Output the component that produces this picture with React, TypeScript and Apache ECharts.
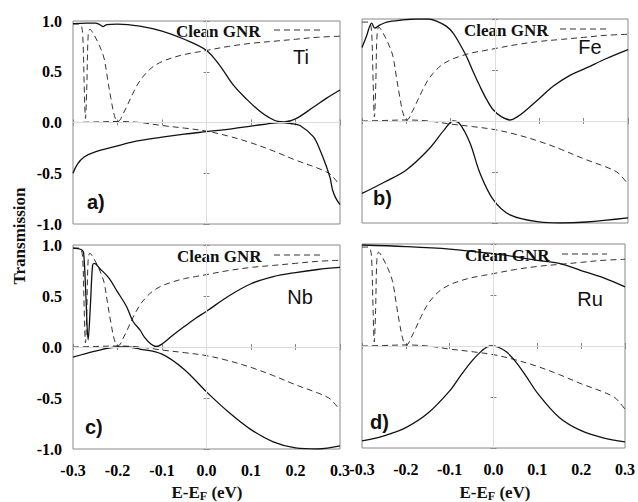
import React, { useEffect, useRef } from "react";
import * as echarts from "echarts";

// ---------- data ----------
const xMin = -0.3;
const xMax = 0.3;
const xStep = 0.1;
const yMin = -1;
const yMax = 1;
const yStep = 0.5;

const panelLetters = ["a)", "b)", "c)", "d)"];
const metals = ["Ti", "Fe", "Nb", "Ru"];
const legendLabel = "Clean GNR";
const yTitle = "Transmission";

// clean GNR (dashed) – same in every panel
const cleanUpper: [number, number][] = [
  [-0.3, 0.97], [-0.29, 0.97], [-0.282, 0.96], [-0.278, 0.85], [-0.275, 0.4],
  [-0.272, 0.04], [-0.269, 0.35], [-0.266, 0.85], [-0.262, 0.92], [-0.255, 0.88],
  [-0.245, 0.8], [-0.237, 0.72], [-0.23, 0.63], [-0.222, 0.42], [-0.215, 0.24],
  [-0.207, 0.07], [-0.2, 0.01], [-0.195, 0.02], [-0.188, 0.08], [-0.18, 0.15],
  [-0.165, 0.29], [-0.15, 0.41], [-0.135, 0.49], [-0.12, 0.55], [-0.1, 0.6],
  [-0.075, 0.64], [-0.05, 0.67], [-0.025, 0.69], [0.0, 0.71], [0.05, 0.75],
  [0.1, 0.78], [0.15, 0.8], [0.2, 0.82], [0.25, 0.84], [0.3, 0.85],
];
const cleanLower: [number, number][] = [
  [-0.3, 0.0], [-0.25, 0.005], [-0.2, 0.01], [-0.15, 0.0], [-0.1, -0.03],
  [-0.05, -0.055], [0.0, -0.085], [0.05, -0.135], [0.1, -0.2], [0.15, -0.28],
  [0.2, -0.37], [0.25, -0.45], [0.275, -0.5], [0.285, -0.54], [0.3, -0.62],
];

// Ti
const tiUpper: [number, number][] = [
  [-0.3, 0.975], [-0.27, 0.98], [-0.25, 0.98], [-0.24, 0.965], [-0.232, 0.945],
  [-0.224, 0.965], [-0.2, 0.97], [-0.15, 0.95], [-0.1, 0.9], [-0.05, 0.82],
  [0.0, 0.71], [0.03, 0.56], [0.06, 0.37], [0.09, 0.23], [0.12, 0.11],
  [0.14, 0.05], [0.16, 0.01], [0.175, 0.005], [0.2, 0.035], [0.24, 0.15],
  [0.27, 0.24], [0.3, 0.32],
];
const tiLower: [number, number][] = [
  [-0.3, -0.5], [-0.29, -0.41], [-0.275, -0.34], [-0.25, -0.29], [-0.2, -0.23],
  [-0.165, -0.19], [-0.1, -0.145], [-0.05, -0.115], [0.0, -0.09], [0.06, -0.06],
  [0.1, -0.035], [0.135, -0.015], [0.165, 0.0], [0.19, -0.01], [0.21, -0.03],
  [0.24, -0.14], [0.255, -0.27], [0.27, -0.44], [0.278, -0.55], [0.283, -0.66],
  [0.29, -0.74], [0.3, -0.81],
];

// Fe
const feUpper: [number, number][] = [
  [-0.3, 0.72], [-0.29, 0.83], [-0.278, 0.96], [-0.271, 0.91], [-0.26, 0.94],
  [-0.244, 0.97], [-0.21, 0.99], [-0.177, 1.0], [-0.15, 1.0], [-0.132, 0.98],
  [-0.11, 0.93], [-0.094, 0.86], [-0.08, 0.76], [-0.064, 0.63], [-0.05, 0.49],
  [-0.034, 0.34], [-0.02, 0.22], [-0.004, 0.11], [0.015, 0.04], [0.034, 0.01],
  [0.05, 0.04], [0.071, 0.11], [0.1, 0.22], [0.131, 0.34], [0.17, 0.45],
  [0.206, 0.52], [0.25, 0.61], [0.3, 0.7],
];
const feLower: [number, number][] = [
  [-0.3, -0.71], [-0.25, -0.6], [-0.2, -0.48], [-0.15, -0.28], [-0.115, -0.09],
  [-0.094, 0.0], [-0.079, -0.03], [-0.056, -0.22], [-0.034, -0.51], [-0.004, -0.77],
  [0.034, -0.92], [0.1, -0.99], [0.146, -1.0], [0.206, -0.99], [0.3, -0.95],
];

// Nb
const nbUpper: [number, number][] = [
  [-0.3, 0.97], [-0.29, 0.965], [-0.28, 0.95], [-0.276, 0.92], [-0.271, 0.5],
  [-0.266, 0.07], [-0.261, 0.4], [-0.256, 0.8], [-0.252, 0.82], [-0.24, 0.77],
  [-0.22, 0.68], [-0.2, 0.54], [-0.18, 0.4], [-0.165, 0.25], [-0.15, 0.17],
  [-0.14, 0.1], [-0.125, 0.03], [-0.112, 0.005], [-0.1, 0.03], [-0.08, 0.1],
  [-0.05, 0.2], [-0.025, 0.28], [0.0, 0.35], [0.05, 0.5], [0.1, 0.62],
  [0.15, 0.69], [0.2, 0.73], [0.25, 0.76], [0.3, 0.78],
];
const nbLower: [number, number][] = [
  [-0.3, -0.1], [-0.25, -0.04], [-0.2, 0.0], [-0.18, 0.0], [-0.15, -0.02],
  [-0.1, -0.07], [-0.05, -0.22], [0.0, -0.44], [0.05, -0.64], [0.1, -0.81],
  [0.15, -0.93], [0.2, -0.99], [0.25, -1.0], [0.3, -0.97],
];

// Ru
const ruUpper: [number, number][] = [
  [-0.3, 0.99], [-0.2, 0.975], [-0.1, 0.95], [0.0, 0.905], [0.05, 0.875],
  [0.1, 0.84], [0.15, 0.81], [0.2, 0.74], [0.25, 0.67], [0.3, 0.58],
];
const ruLower: [number, number][] = [
  [-0.3, -0.93], [-0.25, -0.88], [-0.2, -0.8], [-0.15, -0.66], [-0.1, -0.44],
  [-0.075, -0.29], [-0.05, -0.15], [-0.03, -0.06], [-0.015, -0.01], [-0.005, 0.0],
  [0.01, -0.01], [0.03, -0.06], [0.05, -0.15], [0.075, -0.3], [0.1, -0.46],
  [0.15, -0.7], [0.2, -0.83], [0.25, -0.9], [0.3, -0.94],
];

const upperSets = [tiUpper, feUpper, nbUpper, ruUpper];
const lowerSets = [tiLower, feLower, nbLower, ruLower];

// ---------- layout ----------
const GRIDS = [
  { left: 73, top: 21, width: 267, height: 203 },
  { left: 362, top: 19, width: 266, height: 204 },
  { left: 73, top: 245, width: 267, height: 204 },
  { left: 362, top: 244, width: 266, height: 204 },
];
const LETTER_POS = [[87, 192], [373, 188], [85, 417], [370, 412]];
const METAL_POS = [[301, 57], [590, 47], [300, 297], [590, 299]];
const LEGEND_POS = [
  { tx: 176, ty: 31, x1: 274, x2: 320, ly: 30 },
  { tx: 464, ty: 30, x1: 560, x2: 607, ly: 29 },
  { tx: 177, ty: 256, x1: 274, x2: 320, ly: 255 },
  { tx: 465, ty: 255, x1: 562, x2: 607, ly: 254 },
];

const SERIF = "Liberation Serif";
const SANS = "Liberation Sans";

const fmt = (v: number) => (Math.abs(v) < 1e-9 ? "0.0" : v.toFixed(1));

export default function App() {
  const ref = useRef<HTMLDivElement>(null);

  useEffect(() => {
    if (!ref.current) return;
    const chart = echarts.init(ref.current, null, { renderer: "svg" });

    const grid: any[] = [];
    const xAxis: any[] = [];
    const yAxis: any[] = [];
    const series: any[] = [];
    const graphic: any[] = [];

    const tick = { show: true, inside: true, length: 3, lineStyle: { color: "#888", width: 1 } };
    const labelStyle = { fontFamily: SERIF, fontWeight: "bold", fontSize: 16, color: "#000" };

    GRIDS.forEach((g, i) => {
      grid.push({ ...g, show: true, borderColor: "#888", borderWidth: 1, backgroundColor: "transparent" });
      const showX = i >= 2;
      const showY = i % 2 === 0;
      xAxis.push({
        type: "value", gridIndex: i, min: xMin, max: xMax, interval: xStep, position: "bottom",
        axisLine: { show: false }, axisTick: tick, splitLine: { show: false },
        axisLabel: { show: showX, margin: 13, formatter: fmt, showMinLabel: true, showMaxLabel: true, ...labelStyle },
      });
      xAxis.push({
        type: "value", gridIndex: i, min: xMin, max: xMax, interval: xStep, position: "top",
        axisLine: { show: false }, axisTick: tick, splitLine: { show: false }, axisLabel: { show: false },
      });
      yAxis.push({
        type: "value", gridIndex: i, min: yMin, max: yMax, interval: yStep, position: "left",
        axisLine: { show: false }, axisTick: tick, splitLine: { show: false },
        axisLabel: { show: showY, margin: 11, formatter: fmt, showMinLabel: true, showMaxLabel: true, ...labelStyle },
      });
      yAxis.push({
        type: "value", gridIndex: i, min: yMin, max: yMax, interval: yStep, position: "right",
        axisLine: { show: false }, axisTick: tick, splitLine: { show: false }, axisLabel: { show: false },
      });

      const xi = i * 2;
      const yi = i * 2;
      const dashed = { color: "#333", width: 1, type: [6, 4] };
      const solid = { color: "#111", width: 1.3, type: "solid" };
      const common = { type: "line", xAxisIndex: xi, yAxisIndex: yi, showSymbol: false, smooth: 0.35, silent: true };
      series.push({
        ...common, data: cleanUpper, lineStyle: dashed,
        markLine: {
          silent: true, symbol: "none", label: { show: false },
          lineStyle: { color: "#dcdcdc", width: 1, type: "solid" },
          data: [{ xAxis: 0 }, { yAxis: 0 }],
        },
      });
      series.push({ ...common, data: cleanLower, lineStyle: dashed });
      series.push({ ...common, data: upperSets[i], lineStyle: solid, z: 3 });
      series.push({ ...common, data: lowerSets[i], lineStyle: solid, z: 3 });

      const lp = LETTER_POS[i];
      graphic.push({
        type: "text", left: lp[0], top: lp[1], z: 1,
        style: { text: panelLetters[i], font: `bold 20px ${SANS}`, fill: "#111" },
      });
      const mp = METAL_POS[i];
      graphic.push({
        type: "text", x: mp[0], y: mp[1], z: 1,
        style: { text: metals[i], font: `20px ${SANS}`, fill: "#111", align: "center", verticalAlign: "middle" },
      });
      const lg = LEGEND_POS[i];
      graphic.push({
        type: "text", x: lg.tx, y: lg.ty, z: 1,
        style: { text: legendLabel, font: `bold 17px ${SERIF}`, fill: "#111", align: "left", verticalAlign: "middle" },
      });
      graphic.push({
        type: "line", z: 1,
        shape: { x1: lg.x1, y1: lg.ly, x2: lg.x2, y2: lg.ly },
        style: { stroke: "#333", lineWidth: 1, lineDash: [6, 4] },
      });
    });

    // axis titles
    graphic.push({
      type: "text", x: 19, y: 236, rotation: Math.PI / 2,
      style: { text: yTitle, font: `bold 17px ${SERIF}`, fill: "#111", align: "center", verticalAlign: "middle" },
    });
    [207, 495].forEach((cx) => {
      graphic.push({
        type: "text", x: cx, y: 492,
        style: {
          text: "E-E{s|F} (eV)",
          font: `bold 17px ${SERIF}`, fill: "#111", align: "center", verticalAlign: "middle",
          rich: {
            s: { font: `bold 12px ${SERIF}`, fill: "#111", padding: [8, 0, 0, 0] },
          },
        },
      });
    });

    chart.setOption({
      animation: false,
      backgroundColor: "#fff",
      grid,
      xAxis,
      yAxis,
      series,
      graphic,
    });

    return () => chart.dispose();
  }, []);

  return (
    <div
      ref={ref}
      style={{ position: "absolute", left: 0, top: 0, width: 638, height: 502 }}
    />
  );
}
